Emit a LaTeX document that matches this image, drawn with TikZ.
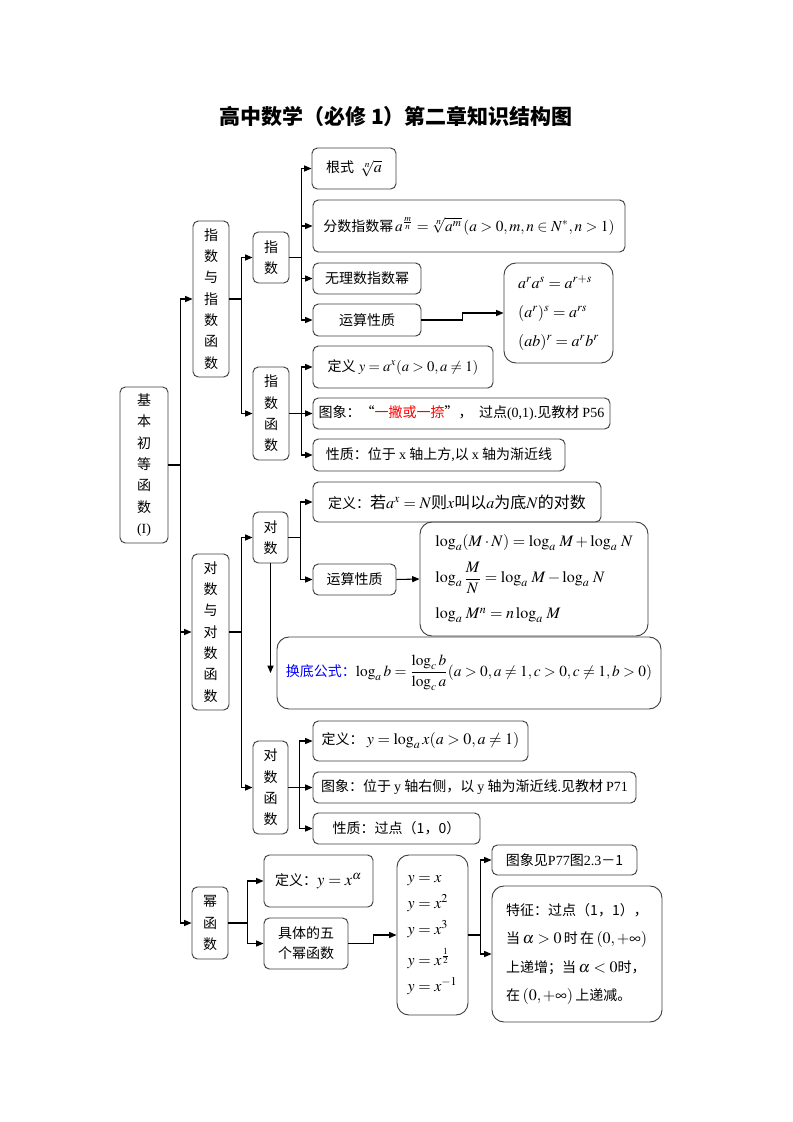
\documentclass[tikz,border=0pt]{standalone}
\usepackage{mathptmx}
\usepackage[no-math]{fontspec}
\setmainfont{Liberation Serif}
\newfontfamily\cjk{Noto Sans CJK SC}
\usetikzlibrary{arrows.meta}
\newcommand\latn[1]{{\rmfamily #1}}

\begin{document}
\begin{tikzpicture}[x=0.75pt, y=-0.75pt,
    box/.style={draw=black!75, line width=0.7pt, rounded corners=4pt, inner sep=1pt,
        font=\cjk\fontsize{10.5}{16}\selectfont, align=center},
    bigbox/.style={box, rounded corners=9pt, align=left},
    sz/.style 2 args={minimum width=#1*0.75pt, minimum height=#2*0.75pt},
    link/.style={line width=0.8pt, -{Triangle[length=5.5pt,width=4.5pt]}}]

    \fill[white] (0,0) rectangle (793,1122);
    \useasboundingbox (0,0) rectangle (793,1122);

    \node[font=\cjk\bfseries\fontsize{15.75}{18}\selectfont] (title) at (396,116) {高中数学（必修 1）第二章知识结构图};

    % === Radice: funzioni elementari ===
    \node[box, sz={48}{156}] (root) at (144,465) {基\\本\\初\\等\\函\\数\\\latn{(I)}};

    \node[box, sz={36}{156}] (expfam) at (211,299) {指\\数\\与\\指\\数\\函\\数};
    \node[box, sz={37}{156}] (logfam) at (210.5,632) {对\\数\\与\\对\\数\\函\\数};
    \node[box, sz={36}{72}] (powfam) at (210,923) {幂\\函\\数};

    \draw[link] (root.east) -- ++(12,0) coordinate (t0) |- (expfam.west);
    \draw[link] (t0) |- (logfam.west);
    \draw[link] (t0) |- (powfam.west);

    % === Esponenziali ===
    \node[box, sz={36}{51}] (expn) at (271,257.5) {指\\数};
    \node[box, sz={36}{93}] (expfn) at (271,413.5) {指\\数\\函\\数};
    \draw[link] (expfam.east) -- ++(12,0) coordinate (t1) |- (expn.west);
    \draw[link] (t1) |- (expfn.west);

    \node[box, sz={84}{41}] (rad) at (354,168.5) {根式\ \ {\fontsize{12}{14}\selectfont$\sqrt[n]{a}$}};
    \node[box, sz={312}{52}] (fracp) at (469,226) {分数指数幂{\fontsize{11.5}{14}\selectfont$\,a^{\frac{m}{n}}=\sqrt[n]{a^m}\,(a>0,m,n\in N^{*},n>1)$}};
    \node[box, sz={108}{31}] (irr) at (367,278.5) {无理数指数幂};
    \node[box, sz={108}{32}] (ops) at (367,320) {运算性质};
    \node[bigbox, sz={109}{100}, font=\cjk\fontsize{12}{21.75}\selectfont] (opsr) at (558.5,313) {$a^ra^s=a^{r+s}$\\$(a^r)^s=a^{rs}$\\$(ab)^r=a^rb^r$};

    \draw[link] (expn.east) -- ++(12,0) coordinate (t2) |- (rad.west);
    \draw[link] (t2) |- (fracp.west);
    \draw[link] (t2) |- (irr.west);
    \draw[link] (t2) |- (ops.west);
    \draw[link] (ops.east) -- ++(41,0) |- (opsr.west);

    \node[box, sz={180}{42}] (expdef) at (403,367) {定义 {\fontsize{11}{14}\selectfont$y=a^x(a>0,a\ne1)$}};
    \node[box, sz={297}{31}] (expimg) at (461.5,413.5) {图象：“\textcolor{red}{一撇或一捺}”，\ \ 过点\latn{(0,1).}见教材 \latn{P56}};
    \node[box, sz={252}{32}] (expprop) at (439,455) {性质：位于 \latn{x} 轴上方\latn{,}以 \latn{x} 轴为渐近线};
    \draw[link] (expfn.east) -- ++(12,0) coordinate (t3) |- (expdef.west);
    \draw[link] (t3) |- (expimg.west);
    \draw[link] (t3) |- (expprop.west);

    % === Logaritmi ===
    \node[box, sz={35}{51}] (logn) at (270.5,537.5) {对\\数};
    \node[box, sz={35}{93}] (logfn) at (270.5,787.5) {对\\数\\函\\数};
    \draw[link] (logfam.east) -- ++(12,0) coordinate (t4) |- (logn.west);
    \draw[link] (t4) |- (logfn.west);

    \node[box, sz={288}{40}] (logdef) at (457,502) {定义：{\fontsize{12}{14}\selectfont 若$a^x=N$则$x$叫以$a$为底$N$的对数}};
    \node[box, sz={83}{31}] (logops) at (354.5,579.5) {运算性质};
    \node[bigbox, sz={228}{114}, font=\cjk\fontsize{12}{27}\selectfont] (logopsr) at (534,579) {$\log_a(M\cdot N)=\log_a\,M+\log_a\,N$\\$\log_a{\displaystyle\frac{M}{N}}=\log_a\,M-\log_a\,N$\\$\log_a\,M^n=n\log_a\,M$};
    \draw[link] (logn.east) -- ++(12,0) coordinate (t5) |- (logdef.west);
    \draw[link] (t5) |- (logops.west);
    \draw[link] (logops.east) -- (logopsr.west);

    \node[bigbox, sz={384}{72}, font=\cjk\fontsize{11.5}{14}\selectfont] (chbase) at (469,673) {\textcolor{blue}{\fontsize{10.5}{12}\selectfont 换底公式：}$\log_a b={\displaystyle\frac{\log_c b}{\log_c a}}(a>0,a\ne1,c>0,c\ne1,b>0)$};
    \draw[link] (logn.south) -- (logn.south |- chbase.west);

    \node[box, sz={215}{40}] (lfdef) at (420.5,741) {定义：\ {\fontsize{12}{14}\selectfont$y=\log_a x(a>0,a\ne1)$}};
    \node[box, sz={323}{31}] (lfimg) at (474.5,787.5) {图象：位于 \latn{y} 轴右侧，以 \latn{y} 轴为渐近线\latn{.}见教材 \latn{P71}};
    \node[box, sz={167}{31}] (lfprop) at (396.5,828.5) {性质：过点（1，0）};
    \draw[link] (logfn.east) -- ++(11,0) coordinate (t6) |- (lfdef.west);
    \draw[link] (t6) |- (lfimg.west);
    \draw[link] (t6) |- (lfprop.west);

    % === Potenze ===
    \node[box, sz={109}{52}] (pdef) at (318.5,881) {定义：{\fontsize{12.5}{14}\selectfont$y=x^\alpha$}};
    \node[box, sz={84}{51}, font=\cjk\fontsize{10.5}{15}\selectfont] (pfive) at (306,943.5) {具体的五\\个幂函数};
    \node[bigbox, sz={71}{160}, font=\cjk\fontsize{12}{19.5}\selectfont] (plist) at (432.5,935) {$y=x$\\$y=x^2$\\$y=x^3$\\[4pt]$y=x^{\frac12}$\\$y=x^{-1}$};
    \node[box, sz={145}{30}] (pimg) at (564.5,860) {图象见\latn{P77}图\latn{2.3}－1};
    \node[bigbox, sz={170}{136}, font=\cjk\fontsize{10.5}{21.4}\selectfont] (pfeat) at (577,954) {特征：过点（1，1），\\当\,{\fontsize{12}{14}\selectfont$\alpha>0$}\,时\,在\,{\fontsize{12}{14}\selectfont$(0,+\infty)$}\\上递增；当\,{\fontsize{12}{14}\selectfont$\alpha<0$}时，\\在\,{\fontsize{12}{14}\selectfont$(0,+\infty)$}\,上递减。};

    \draw[link] (powfam.east) -- ++(19,0) coordinate (t7) |- (pdef.west);
    \draw[link] (t7) |- (pfive.west);
    \draw[link] (pfive.east) -- ++(25,0) |- (plist.west);
    \draw[link] (plist.east) -- ++(12,0) coordinate (t8) |- (pimg.west);
    \draw[link] (t8) |- (pfeat.west);

\end{tikzpicture}
\end{document}
